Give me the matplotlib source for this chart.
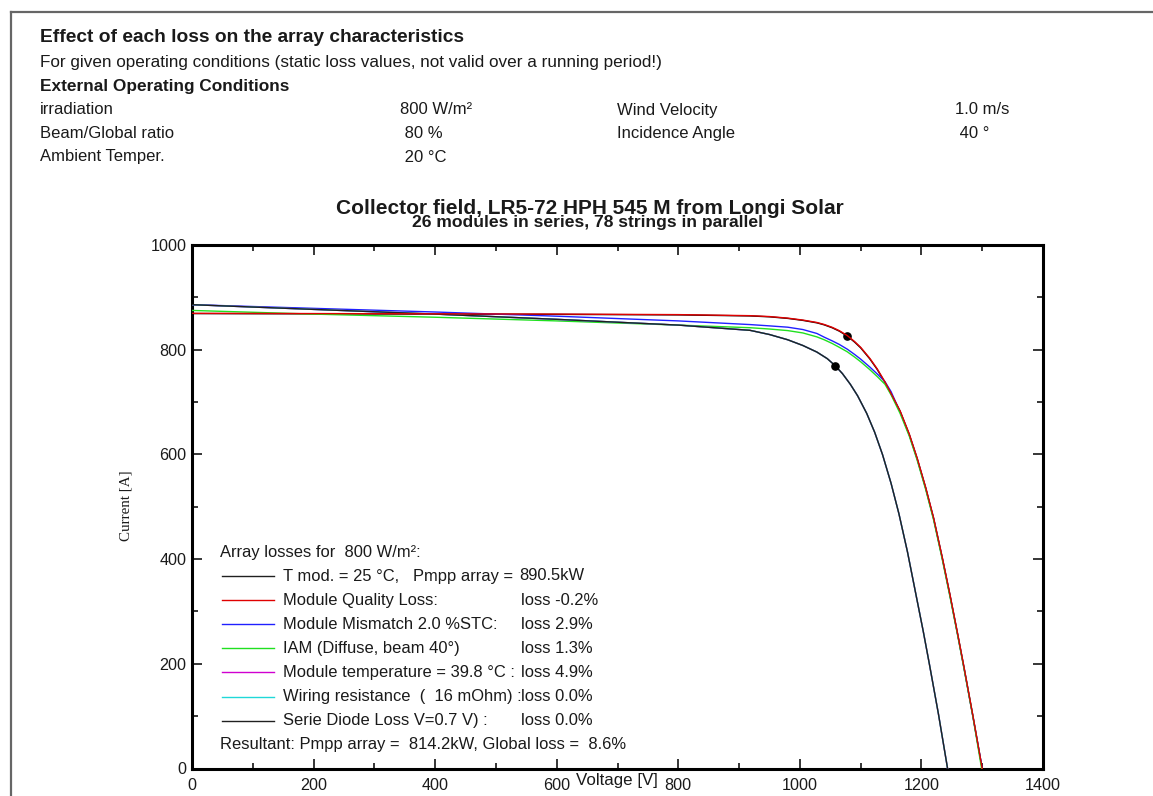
import matplotlib
matplotlib.use("Agg")
import matplotlib.pyplot as plt
from matplotlib.lines import Line2D
from matplotlib.ticker import MultipleLocator

plt.rcParams['font.family'] = ['Liberation Sans', 'DejaVu Sans']

W, H = 1153, 796

# ---- I-V curves of the array (voltage [V], current [A]) ----
v_ref = [0, 200, 400, 600, 800, 918, 950, 980, 1005, 1028, 1040, 1053, 1065, 1078, 1090, 1100,
         1115, 1127, 1140, 1150, 1165, 1180, 1193, 1207, 1220, 1234, 1247, 1260, 1270, 1285, 1300]
i_ref = [869, 868.5, 868, 867.5, 866.5, 864.5, 862.8, 859.8, 856, 851.3, 847.5, 842, 835.4, 826, 814.6, 803.6,
         782.6, 762.8, 737.5, 715.5, 682, 638, 592, 536, 478, 404, 331, 254, 193, 98, 0]

v_quality = [0, 200, 400, 600, 800, 918, 950, 980, 1005, 1028, 1040, 1053, 1065, 1078, 1090, 1100,
             1115, 1127, 1140, 1150, 1165, 1180, 1193, 1207, 1220, 1234, 1247, 1260, 1270, 1285, 1300]
i_quality = [869.5, 869, 868.5, 868, 867, 865, 863.3, 860.3, 856.6, 852, 848.2, 842.8, 836.3, 827, 815.6, 804.6,
             783.6, 763.8, 738.5, 716.5, 683, 639, 593, 537, 479, 405, 332, 255, 194, 99, 0]

v_mismatch = [0, 200, 400, 600, 800, 918, 950, 980, 1005, 1028, 1040, 1053, 1065, 1078, 1090, 1100,
              1115, 1127, 1140, 1150, 1165, 1180, 1193, 1207, 1220, 1234, 1247, 1260, 1270, 1285, 1300]
i_mismatch = [886, 879, 872, 864, 855, 848, 845.5, 843, 838.5, 831, 824, 817, 810, 801, 791, 782,
              767, 754, 739, 720, 681, 637, 591, 535, 477, 403, 330, 253, 192, 97, 0]

v_iam = [0, 200, 400, 600, 800, 918, 950, 980, 1005, 1028, 1040, 1053, 1065, 1078, 1090, 1100,
         1115, 1127, 1140, 1150, 1165, 1180, 1193, 1207, 1220, 1234, 1247, 1260, 1270, 1285, 1299]
i_iam = [875, 868, 862, 855, 847, 842, 839.5, 836.5, 832, 824.5, 819, 812, 804.5, 796, 786, 777,
         762, 749, 734, 714, 678, 635, 589, 533, 475, 401, 328, 252, 191, 97, 0]

v_final = [0, 200, 400, 600, 800, 918, 950, 980, 1005, 1028, 1045, 1058, 1070, 1083, 1095, 1110,
           1123, 1136, 1150, 1163, 1177, 1190, 1203, 1213, 1228, 1243]
i_final = [886, 877, 868, 858, 847, 837, 829, 819, 808, 795.5, 783, 769.6, 754.4, 734, 712, 678.3,
           642.5, 599.6, 545, 486.5, 414, 338, 262, 200, 104, 0]

# maximum power points
mpp_v = [1078, 1058]
mpp_kw = [890.5, 814.2]

loss_labels = ["Module Quality Loss:", "Module Mismatch 2.0 %STC:", "IAM (Diffuse, beam 40°)",
               "Module temperature = 39.8 °C :", "Wiring resistance  (  16 mOhm) :", "Serie Diode Loss V=0.7 V) :"]
loss_values = ["-0.2%", "2.9%", "1.3%", "4.9%", "0.0%", "0.0%"]
loss_colors = ["#e00000", "#2020ff", "#20e020", "#d000d0", "#20d8d8", "#202020"]
global_loss = "8.6%"

fig = plt.figure(figsize=(W / 100, H / 100), dpi=100)


def fx(x):
    return x / W


def fy(y):
    return 1 - y / H


def ftext(x, y, s, **kw):
    kw.setdefault('va', 'center')
    kw.setdefault('ha', 'left')
    kw.setdefault('color', '#1a1a1a')
    fig.text(fx(x), fy(y), s, **kw)


# page frame
fig.add_artist(Line2D([fx(11), fx(W)], [fy(12), fy(12)], color='#666666', lw=1.6))
fig.add_artist(Line2D([fx(11), fx(11)], [fy(12), fy(H)], color='#666666', lw=1.6))

# header block
hs = 12
ftext(40, 38, "Effect of each loss on the array characteristics", fontsize=13.8, fontweight='bold')
ftext(40, 62, "For given operating conditions (static loss values, not valid over a running period!)", fontsize=12.3)
ftext(40, 86, "External Operating Conditions", fontsize=12.4, fontweight='bold')
rows = [("irradiation", "800 W/m²", "Wind Velocity", "1.0 m/s"),
        ("Beam/Global ratio", " 80 %", "Incidence Angle", " 40 °"),
        ("Ambient Temper.", " 20 °C", None, None)]
for k, (a, b, c, d) in enumerate(rows):
    y = 110 + 23.5 * k
    ftext(40, y, a, fontsize=hs)
    ftext(400, y, b, fontsize=hs)
    if c:
        ftext(617, y, c, fontsize=hs)
        ftext(955, y, d, fontsize=hs)

# chart titles
ftext(590, 208, "Collector field, LR5-72 HPH 545 M from Longi Solar", fontsize=15, fontweight='bold', ha='center')
ftext(588, 223, "26 modules in series, 78 strings in parallel", fontsize=12.6, fontweight='bold', ha='center')

ax = fig.add_axes([fx(192), fy(768.5), fx(1043) - fx(192), fy(245) - fy(768.5)])
ax.set_xlim(0, 1400)
ax.set_ylim(0, 1000)
for s in ax.spines.values():
    s.set_linewidth(2.2)
    s.set_color('black')
ax.xaxis.set_major_locator(MultipleLocator(200))
ax.xaxis.set_minor_locator(MultipleLocator(100))
ax.yaxis.set_major_locator(MultipleLocator(200))
ax.yaxis.set_minor_locator(MultipleLocator(100))
ax.tick_params(which='both', direction='in', top=True, right=True, width=1.1, colors='black',
               labelcolor='#1a1a1a', labelsize=11.6)
ax.tick_params(which='major', length=7.5)
ax.tick_params(which='minor', length=4)
ax.tick_params(axis='x', pad=7)
ax.tick_params(axis='y', pad=4)

lw = 1.0
ax.plot(v_ref, i_ref, color='black', lw=lw, zorder=3)
ax.plot(mpp_v[0], mpp_kw[0] * 1000 / mpp_v[0], 'o', color='black', ms=5.2, zorder=3.5)
ax.plot(v_quality, i_quality, color=loss_colors[0], lw=lw, zorder=4)
ax.plot(v_mismatch, i_mismatch, color=loss_colors[1], lw=lw, zorder=3)
ax.plot(v_iam, i_iam, color=loss_colors[2], lw=lw, zorder=3)
ax.plot(v_final, i_final, color=loss_colors[3], lw=lw, zorder=3)
ax.plot(v_final, i_final, color=loss_colors[4], lw=lw, zorder=3)
ax.plot(v_final, i_final, color=loss_colors[5], lw=lw, zorder=3)
ax.plot(mpp_v[1], mpp_kw[1] * 1000 / mpp_v[1], 'o', color='black', ms=5.2, zorder=5)

# axis titles
ftext(617, 781, "Voltage [V]", fontsize=12.2, ha='center')
fig.text(fx(126), fy(506), "Current [A]", rotation=90, ha='center', va='center',
         fontsize=10.8, family=['Liberation Serif', 'DejaVu Serif'], color='#1a1a1a')

# loss summary block
fs = 11.9
ftext(220, 552, "Array losses for  800 W/m²:", fontsize=fs)
y0, dy = 576, 24.1
fig.add_artist(Line2D([fx(222), fx(274)], [fy(y0), fy(y0)], color='#202020', lw=1.0))
ftext(283, y0, "T mod. = 25 °C,   Pmpp array =", fontsize=fs)
ftext(519, y0, f"{mpp_kw[0]:.1f}kW", fontsize=fs)
for k, (lab, val, col) in enumerate(zip(loss_labels, loss_values, loss_colors)):
    y = y0 + dy * (k + 1)
    fig.add_artist(Line2D([fx(222), fx(274)], [fy(y), fy(y)], color=col, lw=1.0))
    ftext(283, y, lab, fontsize=fs)
    ftext(521, y, "loss " + val, fontsize=fs)
ftext(220, y0 + dy * 7, f"Resultant: Pmpp array =  {mpp_kw[1]:.1f}kW, Global loss =  {global_loss}", fontsize=fs)

fig.savefig("out.png", dpi=100)
